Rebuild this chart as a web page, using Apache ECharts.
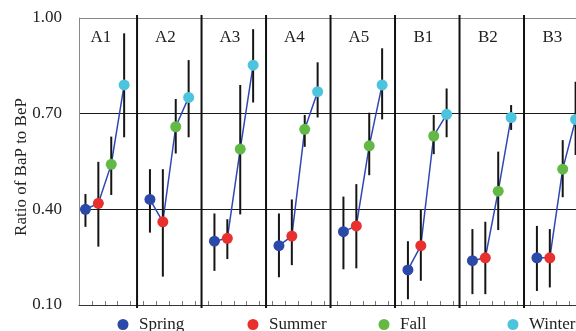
<!DOCTYPE html>
<html>
<head>
<meta charset="utf-8">
<script src="https://cdn.jsdelivr.net/npm/echarts@6/dist/echarts.min.js"></script>
<style>
  html, body { margin: 0; padding: 0; background: #fff; }
  #chart { width: 576px; height: 331px; }
</style>
</head>
<body>
<div id="chart"></div>
<script>
// Sampling sites (one panel each)
const sites = ['A1', 'A2', 'A3', 'A4', 'A5', 'B1', 'B2', 'B3'];
const seasons = ['Spring', 'Summer', 'Fall', 'Winter'];

// Mean BaP/BeP ratio per site, and the lower / upper ends of the error bars
const springMean = [0.400, 0.431, 0.300, 0.286, 0.330, 0.210, 0.239, 0.248];
const springLow  = [0.345, 0.327, 0.207, 0.187, 0.212, 0.118, 0.134, 0.144];
const springHigh = [0.448, 0.526, 0.387, 0.387, 0.440, 0.300, 0.338, 0.348];

const summerMean = [0.419, 0.361, 0.309, 0.316, 0.348, 0.286, 0.248, 0.248];
const summerLow  = [0.283, 0.189, 0.244, 0.225, 0.215, 0.176, 0.134, 0.155];
const summerHigh = [0.549, 0.526, 0.369, 0.431, 0.479, 0.398, 0.361, 0.338];

const fallMean = [0.541, 0.659, 0.589, 0.651, 0.599, 0.630, 0.457, 0.526];
const fallLow  = [0.445, 0.575, 0.384, 0.596, 0.507, 0.573, 0.335, 0.438];
const fallHigh = [0.628, 0.746, 0.790, 0.696, 0.703, 0.696, 0.581, 0.617];

const winterMean = [0.790, 0.751, 0.852, 0.769, 0.790, 0.698, 0.688, 0.682];
const winterLow  = [0.626, 0.626, 0.735, 0.688, 0.682, 0.626, 0.649, 0.570];
const winterHigh = [0.952, 0.868, 0.965, 0.861, 0.905, 0.779, 0.727, 0.800];

// Y-axis tick labels
const yTicks = [0.10, 0.40, 0.70, 1.00];

const means = [springMean, summerMean, fallMean, winterMean];
const lows  = [springLow, summerLow, fallLow, winterLow];
const highs = [springHigh, summerHigh, fallHigh, winterHigh];
const colors = ['#2c48a8', '#e8302e', '#62b946', '#4cc4de'];

const SLOTS = 5;                      // 4 seasons + a gap per panel
const xOf = (site, season) => site * SLOTS + season + 1;
const serif = '"Liberation Serif", "DejaVu Serif", serif';

// Scatter points per season
const seasonSeries = seasons.map((name, s) => ({
  name: name,
  type: 'scatter',
  symbol: 'circle',
  symbolSize: 11,
  z: 5,
  itemStyle: { color: colors[s], opacity: 1 },
  data: sites.map((_, i) => [xOf(i, s), means[s][i]])
}));

// Blue connecting line inside every panel
const lineData = [];
sites.forEach((_, i) => {
  seasons.forEach((_, s) => lineData.push([xOf(i, s), means[s][i]]));
  lineData.push([xOf(i, 4), '-']);
});

// Error bars
const barData = [];
sites.forEach((_, i) => {
  seasons.forEach((_, s) => barData.push([xOf(i, s), lows[s][i], highs[s][i]]));
});

// Panel separators
const sepData = sites.slice(1).map((_, k) => [(k + 1) * SLOTS]);

// Panel titles
const titleData = sites.map((name, i) => [i * SLOTS + 2.2, 0.94, name]);

const tickValues = [];
for (let i = 0; i < sites.length * SLOTS - 1; i++) tickValues.push(i + 1.5);

const chart = echarts.init(document.getElementById('chart'), null, { renderer: 'canvas' });

chart.setOption({
  animation: false,
  backgroundColor: '#fff',
  grid: { left: 79, right: 0, top: 18, bottom: 26, containLabel: false },
  xAxis: {
    type: 'value',
    min: 0.5,
    max: 39.03,
    interval: 1,
    axisLine: { show: true, onZero: false, lineStyle: { color: '#333', width: 1 } },
    axisTick: { show: true, inside: true, length: 4, customValues: tickValues,
                lineStyle: { color: '#777', width: 1 } },
    axisLabel: { show: false },
    splitLine: { show: false }
  },
  yAxis: {
    type: 'value',
    min: yTicks[0],
    max: yTicks[yTicks.length - 1],
    interval: 0.3,
    axisLine: { show: true, lineStyle: { color: '#888', width: 1 } },
    axisTick: { show: false },
    axisLabel: {
      margin: 17,
      fontFamily: serif,
      fontSize: 17,
      color: '#222',
      formatter: v => v.toFixed(2)
    },
    splitLine: { show: true, lineStyle: { color: ['#333', '#1a1a1a', '#1a1a1a', '#888'], width: 1 } }
  },
  graphic: [{
    type: 'text',
    x: 22,
    y: 167,
    rotation: Math.PI / 2,
    style: {
      text: 'Ratio of BaP to BeP',
      font: '17px ' + serif,
      fill: '#222',
      align: 'center',
      verticalAlign: 'middle'
    }
  }],
  legend: seasons.map((name, s) => ({
    data: [{ name: name, icon: 'circle' }],
    left: [117.5, 247.5, 378.5, 507.5][s],
    top: 316,
    padding: 0,
    itemWidth: 22,
    itemHeight: 11,
    selectedMode: false,
    textStyle: { fontFamily: serif, fontSize: 17, color: '#222', padding: [0, 0, 0, 0] }
  })),
  series: [
    {
      type: 'custom',
      name: 'separators',
      clip: false,
      z: 3,
      silent: true,
      data: sepData,
      renderItem: (params, api) => {
        const top = api.coord([api.value(0), 1.0]);
        const bot = api.coord([api.value(0), 0.1]);
        return {
          type: 'line',
          shape: { x1: top[0], y1: top[1] - 3, x2: bot[0], y2: bot[1] + 3 },
          style: { stroke: '#111', lineWidth: 2 }
        };
      }
    },
    {
      type: 'line',
      name: 'trend',
      data: lineData,
      symbol: 'none',
      z: 3,
      connectNulls: false,
      lineStyle: { color: '#2f48b3', width: 1.5 },
      silent: true
    },
    {
      type: 'custom',
      name: 'errors',
      z: 4,
      clip: false,
      silent: true,
      data: barData,
      renderItem: (params, api) => {
        const lo = api.coord([api.value(0), api.value(1)]);
        const hi = api.coord([api.value(0), api.value(2)]);
        return {
          type: 'line',
          shape: { x1: lo[0], y1: lo[1], x2: hi[0], y2: hi[1] },
          style: { stroke: '#151515', lineWidth: 2 }
        };
      }
    },
    {
      type: 'custom',
      name: 'panels',
      z: 6,
      silent: true,
      data: titleData,
      renderItem: (params, api) => {
        const p = api.coord([api.value(0), api.value(1)]);
        return {
          type: 'text',
          x: p[0],
          y: p[1],
          style: {
            text: titleData[params.dataIndex][2],
            font: '17px ' + serif,
            fill: '#222',
            align: 'center',
            verticalAlign: 'middle'
          }
        };
      }
    },
    ...seasonSeries
  ]
});
</script>
</body>
</html>
